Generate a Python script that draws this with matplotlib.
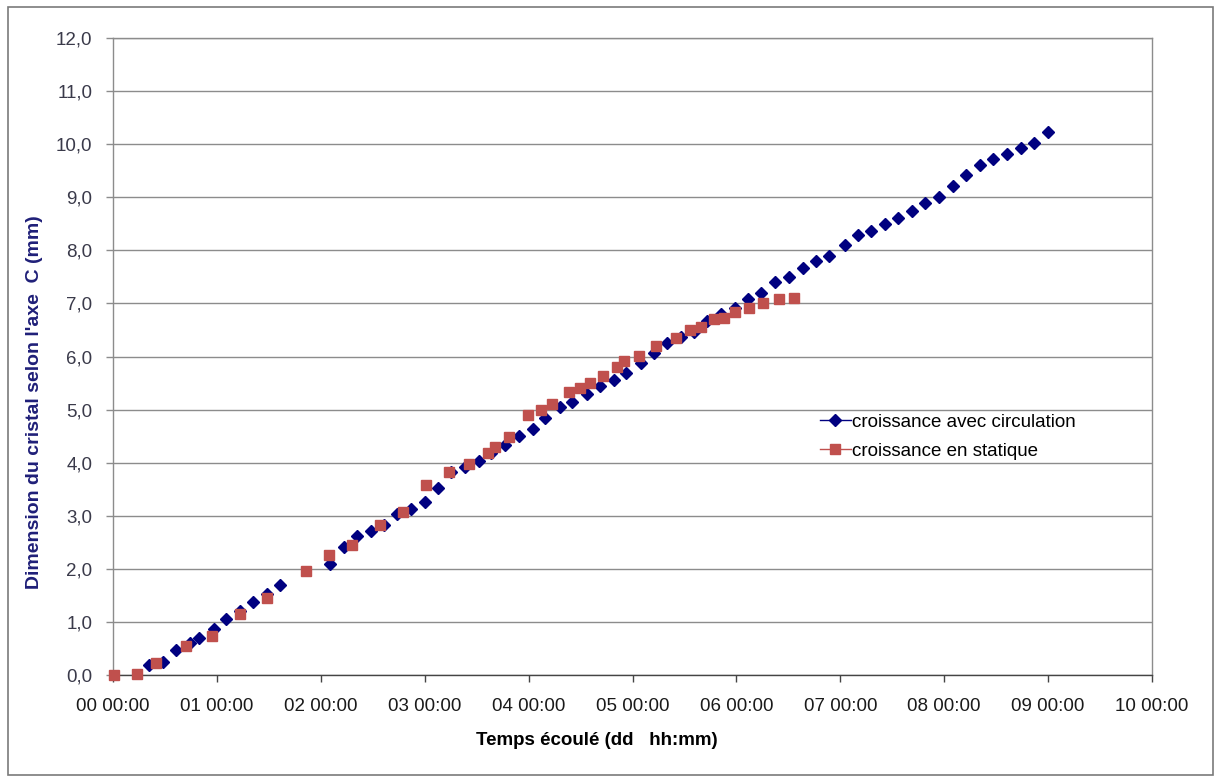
import matplotlib
matplotlib.use("Agg")
import matplotlib.pyplot as plt
from matplotlib.ticker import FuncFormatter, MultipleLocator
from matplotlib.patches import Rectangle

plt.rcParams['font.family'] = ['Liberation Sans', 'DejaVu Sans']

# Elapsed time in days, crystal size in mm
circ_days = [0.35, 0.48, 0.61, 0.74, 0.83, 0.97, 1.09, 1.22, 1.35, 1.48, 1.61,
             2.09, 2.22, 2.35, 2.48, 2.61, 2.73, 2.87, 3.00, 3.13, 3.25, 3.39,
             3.52, 3.64, 3.77, 3.91, 4.04, 4.16, 4.30, 4.42, 4.56, 4.69, 4.82,
             4.94, 5.08, 5.21, 5.33, 5.47, 5.59, 5.72, 5.85, 5.99, 6.11, 6.24,
             6.37, 6.51, 6.64, 6.77, 6.89, 7.05, 7.17, 7.30, 7.43, 7.56, 7.69,
             7.82, 7.95, 8.08, 8.21, 8.34, 8.47, 8.60, 8.74, 8.86, 9.00]
circ_mm = [0.18, 0.25, 0.48, 0.60, 0.69, 0.86, 1.06, 1.21, 1.37, 1.53, 1.69,
           2.10, 2.42, 2.62, 2.71, 2.83, 3.03, 3.12, 3.25, 3.53, 3.83, 3.92,
           4.04, 4.18, 4.33, 4.51, 4.64, 4.84, 5.04, 5.15, 5.29, 5.45, 5.56,
           5.68, 5.87, 6.06, 6.25, 6.37, 6.47, 6.67, 6.80, 6.91, 7.08, 7.20,
           7.40, 7.49, 7.66, 7.79, 7.89, 8.10, 8.29, 8.37, 8.50, 8.60, 8.75,
           8.90, 9.01, 9.21, 9.41, 9.61, 9.72, 9.82, 9.92, 10.02, 10.22]

stat_days = [0.01, 0.23, 0.41, 0.70, 0.95, 1.22, 1.48, 1.86, 2.08, 2.30, 2.57,
             2.79, 3.01, 3.23, 3.43, 3.61, 3.68, 3.81, 3.99, 4.12, 4.23, 4.39,
             4.49, 4.59, 4.72, 4.85, 4.92, 5.06, 5.23, 5.42, 5.55, 5.66, 5.78,
             5.88, 5.99, 6.12, 6.26, 6.41, 6.55]
stat_mm = [0.00, 0.02, 0.23, 0.55, 0.74, 1.15, 1.45, 1.96, 2.26, 2.45, 2.82,
           3.08, 3.58, 3.83, 3.98, 4.19, 4.30, 4.49, 4.89, 4.99, 5.10, 5.33,
           5.41, 5.51, 5.64, 5.81, 5.92, 6.01, 6.20, 6.35, 6.50, 6.55, 6.71,
           6.73, 6.83, 6.91, 7.00, 7.08, 7.11]

label_circ = "croissance avec circulation"
label_stat = "croissance en statique"
xlabel = "Temps écoulé (dd   hh:mm)"
ylabel = "Dimension du cristal selon l'axe  C (mm)"

W, H = 1215, 776
fig = plt.figure(figsize=(W / 100, H / 100), dpi=100)
ax = fig.add_axes([113 / W, 1 - 675 / H, (1152 - 113) / W, (675 - 38) / H])

blue = '#000080'
red = '#C0504D'
ax.plot(circ_days, circ_mm, linestyle='none', marker='D', markersize=5.8,
        color=blue, label=label_circ, zorder=3, clip_on=False)
ax.plot(stat_days, stat_mm, linestyle='none', marker='s', markersize=6.8,
        color=red, label=label_stat, zorder=3, clip_on=False)

ax.set_xlim(0, 10)
ax.set_ylim(0, 12)
ax.xaxis.set_major_locator(MultipleLocator(1))
ax.yaxis.set_major_locator(MultipleLocator(1))


def fmt_time(v, pos):
    total_min = int(round(v * 24 * 60))
    d, rem = divmod(total_min, 24 * 60)
    h, m = divmod(rem, 60)
    return f"{d:02d} {h:02d}:{m:02d}"


ax.xaxis.set_major_formatter(FuncFormatter(fmt_time))
ax.yaxis.set_major_formatter(FuncFormatter(lambda v, p: f"{v:.1f}".replace('.', ',')))

ax.grid(axis='y', color='#8c8c8c', linewidth=1.0)
ax.grid(axis='x', visible=False)
ax.set_axisbelow(True)

for s in ['top', 'right', 'left']:
    ax.spines[s].set_color('#8c8c8c')
    ax.spines[s].set_linewidth(1.0)
ax.spines['bottom'].set_color('#444444')
ax.spines['bottom'].set_linewidth(1.0)

ax.tick_params(axis='x', direction='out', length=5, width=1, color='#444444',
               labelsize=13.5, labelcolor='#1a1a1a', pad=11.5)
ax.tick_params(axis='y', direction='out', length=5, width=1, color='#8c8c8c',
               labelsize=13.5, labelcolor='#3a3a4a', pad=10)

ax.set_xlabel(xlabel, fontsize=13.5, fontweight='bold', color='black')
ax.xaxis.set_label_coords((597 - 113) / (1152 - 113), -(732 - 675) / (675 - 38))
ax.set_ylabel(ylabel, fontsize=14, fontweight='bold', color='#1f1f78')
ax.yaxis.set_label_coords(-(113 - 43) / (1152 - 113), (675 - 402) / (675 - 38))

leg = ax.legend(loc='upper left', bbox_to_anchor=(812 / W, 1 - 406 / H),
                bbox_transform=fig.transFigure, frameon=False, fontsize=13.5,
                handlelength=1.7, handletextpad=0.05, labelspacing=0.65,
                numpoints=1, borderaxespad=0)
for h in leg.legend_handles:
    h.set_linestyle('-')
    h.set_linewidth(1.0)

fig.patches.append(Rectangle((8 / W, 1 - 775 / H), (1213 - 8) / W, (775 - 7) / H,
                             transform=fig.transFigure, fill=False,
                             edgecolor='#7a7a7a', linewidth=1.2))

fig.savefig('out.png', dpi=100)
